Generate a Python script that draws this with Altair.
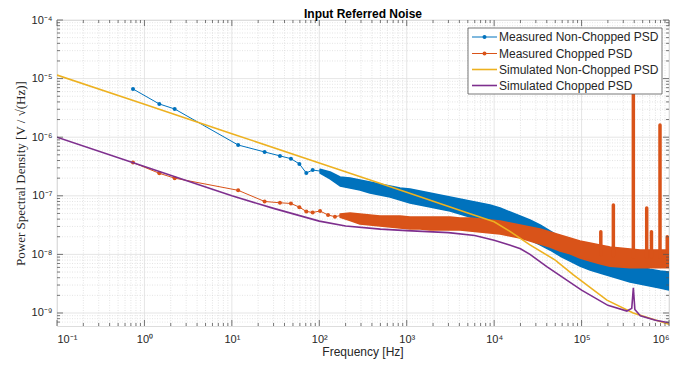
import altair as alt
import pandas as pd

# ---------------- data ----------------
# Measured Non-Chopped PSD (blue) - individual low-frequency points
blue_f = [0.74, 1.48, 2.22, 11.8, 23.7, 35.5, 47.4, 59.2, 71, 84]
blue_v = [6.65e-6, 3.69e-6, 3.03e-6, 7.36e-7, 5.6e-7, 4.8e-7, 4.3e-7, 3.5e-7, 2.45e-7, 2.75e-7]

# Measured Chopped PSD (orange) - individual low-frequency points
orange_f = [0.74, 1.48, 2.22, 11.8, 23.7, 35.5, 47.4, 59.2, 71, 84, 102, 126, 151]
orange_v = [3.7e-7, 2.42e-7, 2.0e-7, 1.24e-7, 8.0e-8, 7.6e-8, 7.4e-8, 6.4e-8, 5.4e-8,
            5.2e-8, 5.5e-8, 4.7e-8, 4.4e-8]

# dense region: frequencies and upper / lower edges of the measured bands
band_f = [102, 133, 173, 225, 292, 380, 495, 644, 838, 1090, 1420, 1850, 2400, 3130,
          4070, 5290, 6890, 8970, 11700, 15200, 19800, 25700, 33500, 43500, 56700,
          73800, 95900, 125000, 162000, 211000, 275000, 358000, 466000, 606000,
          789000, 1000000]
blue_hi = [2.85e-7, 2.55e-7, 2.09e-7, 2.01e-7, 1.86e-7, 1.72e-7, 1.59e-7, 1.47e-7, 1.36e-7,
           1.31e-7, 1.21e-7, 1.12e-7, 1.03e-7, 9.5e-8, 8.8e-8, 8.15e-8, 7.53e-8, 6.97e-8,
           6.19e-8, 5.3e-8, 4.52e-8, 3.86e-8, 3.18e-8, 2.51e-8, 1.98e-8, 1.57e-8, 1.29e-8,
           1.10e-8, 9.4e-9, 8.4e-9, 7.4e-9, 6.6e-9, 6.1e-9, 5.6e-9, 5.2e-9, 5.0e-9]
blue_lo = [2.45e-7, 1.95e-7, 1.47e-7, 1.36e-7, 1.26e-7, 1.12e-7, 1.03e-7, 9.5e-8, 8.48e-8,
           7.53e-8, 6.97e-8, 6.44e-8, 5.96e-8, 5.51e-8, 4.89e-8, 4.35e-8, 3.86e-8, 3.30e-8,
           2.82e-8, 2.41e-8, 2.06e-8, 1.76e-8, 1.45e-8, 1.19e-8, 9.4e-9, 7.7e-9, 6.3e-9,
           5.4e-9, 4.8e-9, 4.28e-9, 3.80e-9, 3.38e-9, 3.12e-9, 2.89e-9, 2.67e-9, 2.47e-9]
# orange band starts at band_f[2]
orange_hi = [4.9e-8, 5.1e-8, 4.89e-8, 4.70e-8, 4.52e-8, 4.52e-8, 4.52e-8, 4.35e-8, 4.35e-8,
             4.35e-8, 4.35e-8, 4.35e-8, 4.18e-8, 4.18e-8, 4.02e-8, 3.86e-8, 3.72e-8, 3.44e-8,
             3.18e-8, 2.94e-8, 2.71e-8, 2.41e-8, 2.14e-8, 1.90e-8, 1.69e-8, 1.57e-8, 1.45e-8,
             1.34e-8, 1.29e-8, 1.24e-8, 1.19e-8, 1.19e-8, 1.19e-8, 1.19e-8]
orange_lo = [4.3e-8, 3.8e-8, 3.30e-8, 3.18e-8, 3.05e-8, 2.94e-8, 2.82e-8, 2.71e-8, 2.71e-8,
             2.61e-8, 2.61e-8, 2.61e-8, 2.61e-8, 2.51e-8, 2.41e-8, 2.32e-8, 2.23e-8, 2.06e-8,
             1.90e-8, 1.69e-8, 1.50e-8, 1.34e-8, 1.14e-8, 1.02e-8, 8.7e-9, 7.7e-9, 6.9e-9,
             6.3e-9, 6.1e-9, 5.9e-9, 5.9e-9, 5.9e-9, 5.9e-9, 5.9e-9]

# narrow spurs in the chopped spectrum
peak_f = [166000, 231000, 391000, 556000, 630000, 789000, 955000]
peak_base = [1.0e-8, 9.5e-9, 9.0e-9, 9.0e-9, 9.0e-9, 9.0e-9, 9.0e-9]
peak_top = [2.44e-8, 6.97e-8, 8.0e-6, 6.2e-8, 2.44e-8, 1.61e-6, 2.0e-8]

# Simulated Non-Chopped PSD (yellow)
sim_nc_f = [0.1, 1, 10, 100, 1000, 5000, 10000, 15000, 25700, 50000, 80000, 195000,
            390000, 1000000]
sim_nc_v = [1.15e-5, 3.64e-6, 1.15e-6, 3.64e-7, 1.15e-7, 5.1e-8, 3.6e-8, 2.5e-8, 1.45e-8,
            8.0e-9, 4.5e-9, 1.66e-9, 1.0e-9, 6.4e-10]

# Simulated Chopped PSD (purple)
sim_c_f = [0.1, 1, 3, 10, 30, 100, 200, 500, 1000, 3000, 6000, 10000, 15000, 20000, 25700,
           40000, 100000, 200000, 330000, 375000, 391000, 407000, 470000, 700000, 1000000]
sim_c_v = [1.0e-6, 3.16e-7, 1.83e-7, 1.0e-7, 6.1e-8, 3.7e-8, 3.05e-8, 2.7e-8, 2.55e-8,
           2.35e-8, 2.1e-8, 1.75e-8, 1.45e-8, 1.25e-8, 1.0e-8, 6.2e-9, 2.45e-9, 1.35e-9,
           1.08e-9, 1.2e-9, 2.7e-9, 1.15e-9, 9.0e-10, 7.5e-10, 6.8e-10]

x_tick_labels = ['10⁻¹', '10⁰', '10¹', '10²', '10³', '10⁴', '10⁵', '10⁶']
y_tick_labels = ['10⁻⁹', '10⁻⁸', '10⁻⁷', '10⁻⁶', '10⁻⁵', '10⁻⁴']
legend_labels = ['Measured Non-Chopped PSD', 'Measured Chopped PSD',
                 'Simulated Non-Chopped PSD', 'Simulated Chopped PSD']
title_text = 'Input Referred Noise'
x_title = 'Frequency [Hz]'
y_title = 'Power Spectral Density [V / √(Hz)]'

BLUE, ORANGE, YELLOW, PURPLE = '#0072BD', '#D95319', '#EDB120', '#7E2F8E'
AX = '#262626'
W, H = 612, 306
FONT = 'Liberation Sans'

x_major = [10.0 ** k for k in range(-1, 7)]
x_minor = [m * 10.0 ** k for k in range(-1, 6) for m in range(2, 10)]
y_major = [10.0 ** k for k in range(-9, -3)]
y_minor = [m * 10.0 ** k for k in range(-10, -4) for m in range(2, 10) if m * 10.0 ** k > 6e-10]

xs = alt.Scale(type='log', domain=[0.1, 1e6], nice=False)
ys = alt.Scale(type='log', domain=[6e-10, 1e-4], nice=False)

xaxis = alt.Axis(values=x_major, grid=False, ticks=False, domain=False,
                 labelExpr="[" + ",".join("'%s'" % t for t in x_tick_labels) + "][round(log(datum.value)/LN10)+1]",
                 labelFont=FONT, labelFontSize=11, labelColor=AX, labelPadding=7, title=None)
yaxis = alt.Axis(values=y_major, grid=False, ticks=False, domain=False,
                 labelExpr="[" + ",".join("'%s'" % t for t in y_tick_labels) + "][round(log(datum.value)/LN10)+9]",
                 labelFont=FONT, labelFontSize=11, labelColor=AX, labelPadding=5,
                 title=y_title, titleFont='Liberation Serif',
                 titleFontSize=13, titleFontWeight='normal', titleColor=AX, titlePadding=4)

X = alt.X('f:Q', scale=xs, axis=xaxis)
Y = alt.Y('v:Q', scale=ys, axis=yaxis)

layers = []

# grid
gx_minor = pd.DataFrame({'f': x_minor})
gx_major = pd.DataFrame({'f': x_major})
gy_minor = pd.DataFrame({'v': y_minor})
gy_major = pd.DataFrame({'v': y_major})
layers.append(alt.Chart(gx_minor).mark_rule(color='#d9d9d9', strokeWidth=0.7, strokeDash=[1, 1.5])
              .encode(x=X, y=alt.value(0), y2=alt.value(H)))
layers.append(alt.Chart(gy_minor).mark_rule(color='#d9d9d9', strokeWidth=0.7, strokeDash=[1, 1.5])
              .encode(y=Y, x=alt.value(0), x2=alt.value(W)))
layers.append(alt.Chart(gx_major).mark_rule(color='#dedede', strokeWidth=0.8)
              .encode(x=X, y=alt.value(0), y2=alt.value(H)))
layers.append(alt.Chart(gy_major).mark_rule(color='#dedede', strokeWidth=0.8)
              .encode(y=Y, x=alt.value(0), x2=alt.value(W)))


def measured(color, f, v, bf, hi, lo):
    out = []
    sp = pd.DataFrame({'f': f, 'v': v})
    # connect the sparse points into the band
    conn = pd.DataFrame({'f': f + [bf[0]], 'v': v + [(hi[0] * lo[0]) ** 0.5]})
    out.append(alt.Chart(conn).mark_line(color=color, strokeWidth=1, clip=True).encode(x=X, y=Y))
    out.append(alt.Chart(sp).mark_point(color=color, filled=True, size=16, opacity=1, clip=True)
               .encode(x=X, y=Y))
    band = pd.DataFrame({'f': bf, 'v': lo, 'v2': hi})
    out.append(alt.Chart(band).mark_area(color=color, opacity=1, stroke=color, strokeWidth=1.5,
                                         strokeJoin='round', clip=True)
               .encode(x=X, y=Y, y2=alt.Y2('v2:Q')))
    return out


layers += measured(BLUE, blue_f, blue_v, band_f, blue_hi, blue_lo)
layers += measured(ORANGE, orange_f, orange_v, band_f[2:], orange_hi, orange_lo)

peaks = pd.DataFrame({'f': peak_f, 'v': peak_base, 'v2': peak_top})
layers.append(alt.Chart(peaks).mark_rule(color=ORANGE, strokeWidth=3.5, strokeCap='round', clip=True)
              .encode(x=X, y=Y, y2=alt.Y2('v2:Q')))

layers.append(alt.Chart(pd.DataFrame({'f': sim_nc_f, 'v': sim_nc_v}))
              .mark_line(color=YELLOW, strokeWidth=1.6, clip=True).encode(x=X, y=Y))
layers.append(alt.Chart(pd.DataFrame({'f': sim_c_f, 'v': sim_c_v}))
              .mark_line(color=PURPLE, strokeWidth=1.6, clip=True).encode(x=X, y=Y))

# inward ticks on all four sides
for vals, ln in ((x_major, 6), (x_minor, 3)):
    d = pd.DataFrame({'f': vals})
    layers.append(alt.Chart(d).mark_rule(color='#555555', strokeWidth=0.8)
                  .encode(x=X, y=alt.value(H), y2=alt.value(H - ln)))
    layers.append(alt.Chart(d).mark_rule(color='#555555', strokeWidth=0.8)
                  .encode(x=X, y=alt.value(0), y2=alt.value(ln)))
for vals, ln in ((y_major, 6), (y_minor, 3)):
    d = pd.DataFrame({'v': vals})
    layers.append(alt.Chart(d).mark_rule(color='#555555', strokeWidth=0.8)
                  .encode(y=Y, x=alt.value(0), x2=alt.value(ln)))
    layers.append(alt.Chart(d).mark_rule(color='#555555', strokeWidth=0.8)
                  .encode(y=Y, x=alt.value(W), x2=alt.value(W - ln)))

# legend box
one = pd.DataFrame({'a': [0]})
LX0, LX1, LY0, LY1 = 411, 605, 8, 74
layers.append(alt.Chart(one).mark_rect(fill='white', stroke='#555555', strokeWidth=0.8)
              .encode(x=alt.value(LX0), x2=alt.value(LX1), y=alt.value(LY0), y2=alt.value(LY1)))
colors = [BLUE, ORANGE, YELLOW, PURPLE]
rows = [17, 33.5, 49.5, 65.5]
for i, (lab, col, ry) in enumerate(zip(legend_labels, colors, rows)):
    layers.append(alt.Chart(one).mark_rule(color=col, strokeWidth=1 if i < 2 else 1.6)
                  .encode(x=alt.value(415), x2=alt.value(440), y=alt.value(ry)))
    if i < 2:
        layers.append(alt.Chart(one).mark_point(color=col, filled=True, size=16, opacity=1)
                      .encode(x=alt.value(427.5), y=alt.value(ry)))
    layers.append(alt.Chart(pd.DataFrame({'t': [lab]}))
                  .mark_text(align='left', baseline='middle', font=FONT, fontSize=12, color=AX)
                  .encode(text='t:N', x=alt.value(442), y=alt.value(ry)))

# chart title and x-axis title as text marks
layers.append(alt.Chart(pd.DataFrame({'t': [title_text]}))
              .mark_text(align='center', baseline='alphabetic', font=FONT, fontSize=12,
                         fontWeight='bold', color='black')
              .encode(text='t:N', x=alt.value(W / 2), y=alt.value(-2.5)))
layers.append(alt.Chart(pd.DataFrame({'t': [x_title]}))
              .mark_text(align='center', baseline='middle', font=FONT, fontSize=12, color=AX)
              .encode(text='t:N', x=alt.value(W / 2), y=alt.value(H + 26)))

chart = alt.layer(*layers).properties(
    width=W, height=H,
    autosize=alt.AutoSizeParams(type='none'),
    padding={'left': 49, 'top': 12, 'right': 17, 'bottom': 33},
).configure_view(stroke='#555555', strokeWidth=1).configure(background='white')

chart.save('out.html', embed_options={'renderer': 'svg', 'actions': False})
